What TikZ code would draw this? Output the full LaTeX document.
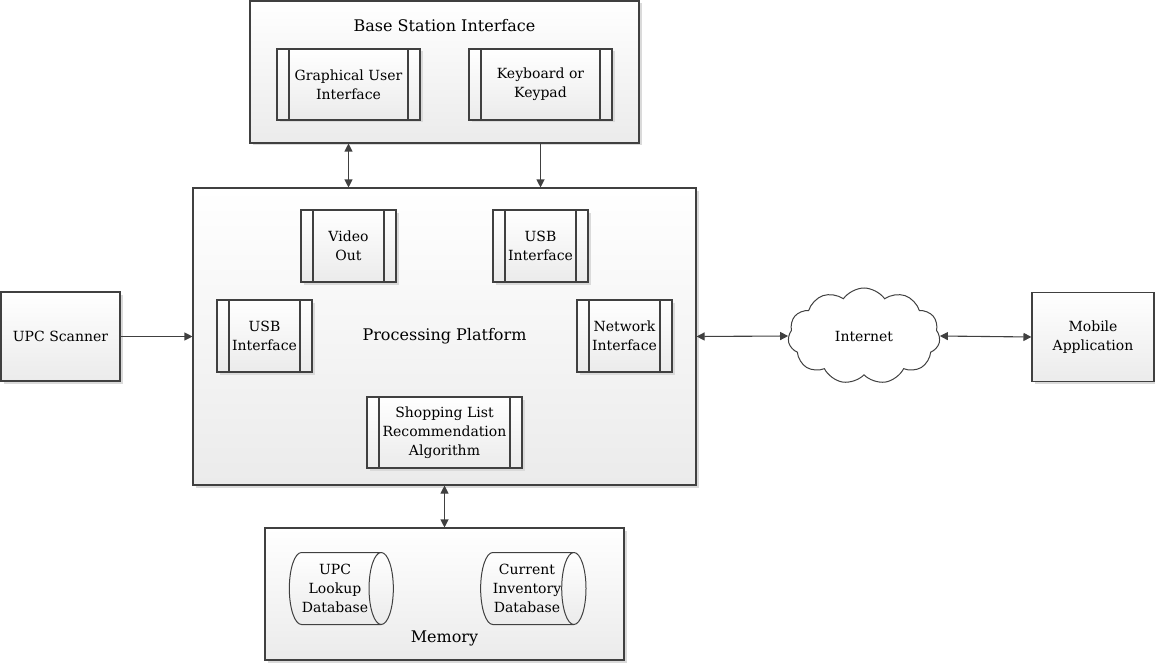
\documentclass[tikz,border=0pt]{standalone}
\usepackage{fontspec}
\setmainfont{DejaVu Serif}
\usetikzlibrary{arrows.meta,shapes.geometric,shapes.symbols,shadows}

\definecolor{edge}{HTML}{404040}
\definecolor{shade}{HTML}{EBEBEB}
\definecolor{shadowgray}{HTML}{DADADA}

\begin{document}
\begin{tikzpicture}[x=1pt, y=-1pt,
    >={Triangle[length=8pt, width=8pt]},
    box/.style={draw=edge, line width=1.1pt, top color=white, bottom color=shade,
        drop shadow={shadow xshift=2.5pt, shadow yshift=-2.5pt, fill=shadowgray, opacity=1},
        align=center, inner sep=0pt, font=\fontsize{14}{19}\selectfont},
    proc/.style={box, path picture={
        \draw[edge, line width=1.1pt] ([xshift=12pt]path picture bounding box.north west)
            -- ([xshift=12pt]path picture bounding box.south west);
        \draw[edge, line width=1.1pt] ([xshift=-12pt]path picture bounding box.north east)
            -- ([xshift=-12pt]path picture bounding box.south east);}},
    db/.style={cylinder, draw=edge, line width=1pt, top color=white, bottom color=shade,
        aspect=0.5, align=center, inner sep=0pt, font=\fontsize{14}{19}\selectfont},
    web/.style={cloud, cloud puffs=11, cloud puff arc=110, aspect=1.6, draw=edge,
        line width=1pt, fill=white, font=\fontsize{14}{19}\selectfont},
    title/.style={font=\fontsize{16}{20}\selectfont},
    link/.style={draw=edge, line width=1.1pt}]

    \useasboundingbox (0,0) rectangle (1155,663);

    % base station
    \node[box, minimum width=389pt, minimum height=142pt] (bsi) at (444.5,72) {};
    \node[title] (bsititle) at (444.5,26) {Base Station Interface};
    \node[proc, minimum width=143pt, minimum height=71pt] (gui) at (348.5,84.5) {Graphical User\\Interface};
    \node[proc, minimum width=143pt, minimum height=71pt] (kbd) at (540.5,84.5) {Keyboard or\\Keypad};

    % processing platform
    \node[box, minimum width=503pt, minimum height=297pt] (pp) at (444.5,336.5) {};
    \node[title] (pptitle) at (444.5,336) {Processing Platform};
    \node[proc, minimum width=95pt, minimum height=72pt] (vid) at (348.5,246) {Video\\Out};
    \node[proc, minimum width=95pt, minimum height=72pt] (usbtop) at (540.5,246) {USB\\Interface};
    \node[proc, minimum width=95pt, minimum height=72pt] (usbleft) at (264.5,336) {USB\\Interface};
    \node[proc, minimum width=95pt, minimum height=72pt] (nic) at (624.5,336) {Network\\Interface};
    \node[proc, minimum width=155pt, minimum height=71pt] (algo) at (444.5,432.5) {Shopping List\\Recommendation\\Algorithm};

    % memory
    \node[box, minimum width=359pt, minimum height=132pt] (mem) at (444.5,594) {};
    \node[title] (memtitle) at (444.5,638) {Memory};
    \node[db, minimum width=72pt, minimum height=104pt] (upcdb) at (335,588.5) {UPC\\Lookup\\Database};
    \node[db, minimum width=72pt, minimum height=105pt] (invdb) at (527,588.5) {Current\\Inventory\\Database};

    % outside
    \node[box, minimum width=119pt, minimum height=89pt] (scan) at (60.5,336.5) {UPC Scanner};
    \node[web, minimum width=152pt, minimum height=96pt] (inet) at (864,336) {Internet};
    \node[box, minimum width=122pt, minimum height=89pt] (app) at (1093,337) {Mobile\\Application};

    \draw[link, <->] (bsi.south -| gui) -- (pp.north -| gui);
    \draw[link, ->] (bsi.south -| kbd) -- (pp.north -| kbd);
    \draw[link, ->] (scan.east) -- (pp.west);
    \draw[link, <->] (pp.east) -- (inet.west);
    \draw[link, <->] (inet.east) -- (app.west);
    \draw[link, <->] (pp.south) -- (mem.north);
\end{tikzpicture}
\end{document}
